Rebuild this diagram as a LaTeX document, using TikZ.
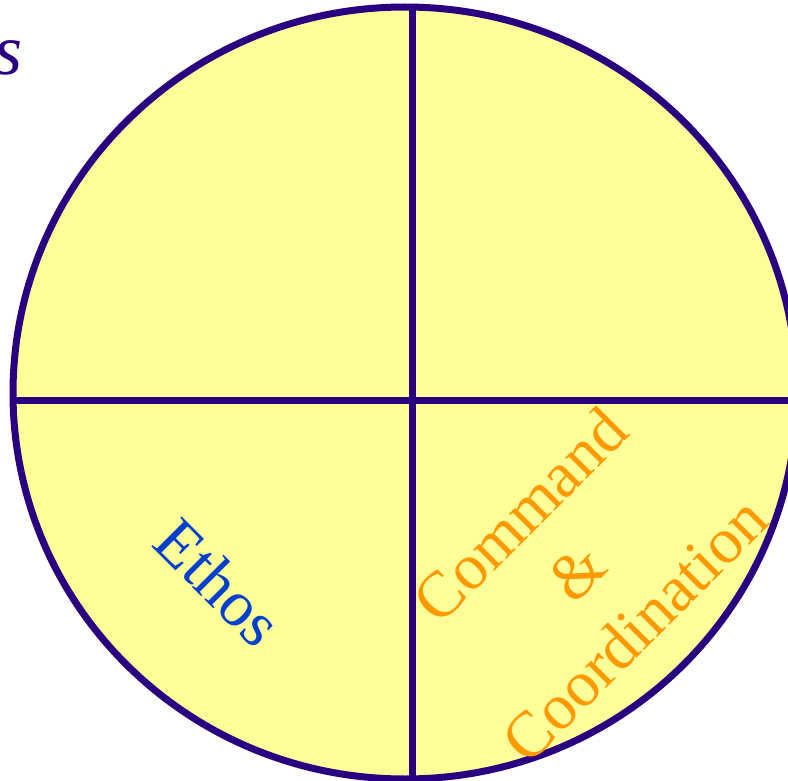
\documentclass[tikz,border=0pt]{standalone}
\usepackage{fontspec}
\setmainfont{Liberation Serif}
\usepackage{xcolor}
\definecolor{wheelRim}{RGB}{40, 0, 128}
\definecolor{wheelFill}{RGB}{255, 255, 153}
\definecolor{ethosBlue}{RGB}{0, 64, 204}
\definecolor{cmdOrange}{RGB}{255, 153, 0}
\usetikzlibrary{positioning, calc}

\begin{document}
\begin{tikzpicture}[
    x=1pt, y=-1pt,
    rimLine/.style={
        draw=wheelRim, line width=7pt
    },
    sliceLabel/.style={
        font=\fontsize{65}{81}\selectfont,
        align=center, inner sep=0pt
    },
    titleText/.style={
        font=\fontsize{72}{80}\selectfont\itshape,
        text=wheelRim, inner sep=0pt
    }
]

    \useasboundingbox (0,0) rectangle (788,781);
    \clip (0,0) rectangle (788,781);

    % Wheel
    \coordinate (hub) at (405,393);
    \coordinate (cross) at (412.5,400);
    \fill[wheelFill] (hub) ellipse [x radius=392, y radius=386];
    \begin{scope}
        \clip (hub) ellipse [x radius=392, y radius=386];
        \draw[rimLine] (cross) ++(0,-420) -- ++(0,840);
        \draw[rimLine] (cross) ++(-420,0) -- ++(840,0);
    \end{scope}
    \draw[rimLine] (hub) ellipse [x radius=392, y radius=386];

    % Nodes
    \node[titleText, anchor=base east] (title) at (23,75) {s};
    \node[sliceLabel, text=ethosBlue, rotate=-45] (ethos) at (219,582) {Ethos};
    \node[sliceLabel, text=cmdOrange, rotate=45] (command) at (577,572)
        {Command\\\&\\Coordination};

\end{tikzpicture}
\end{document}
